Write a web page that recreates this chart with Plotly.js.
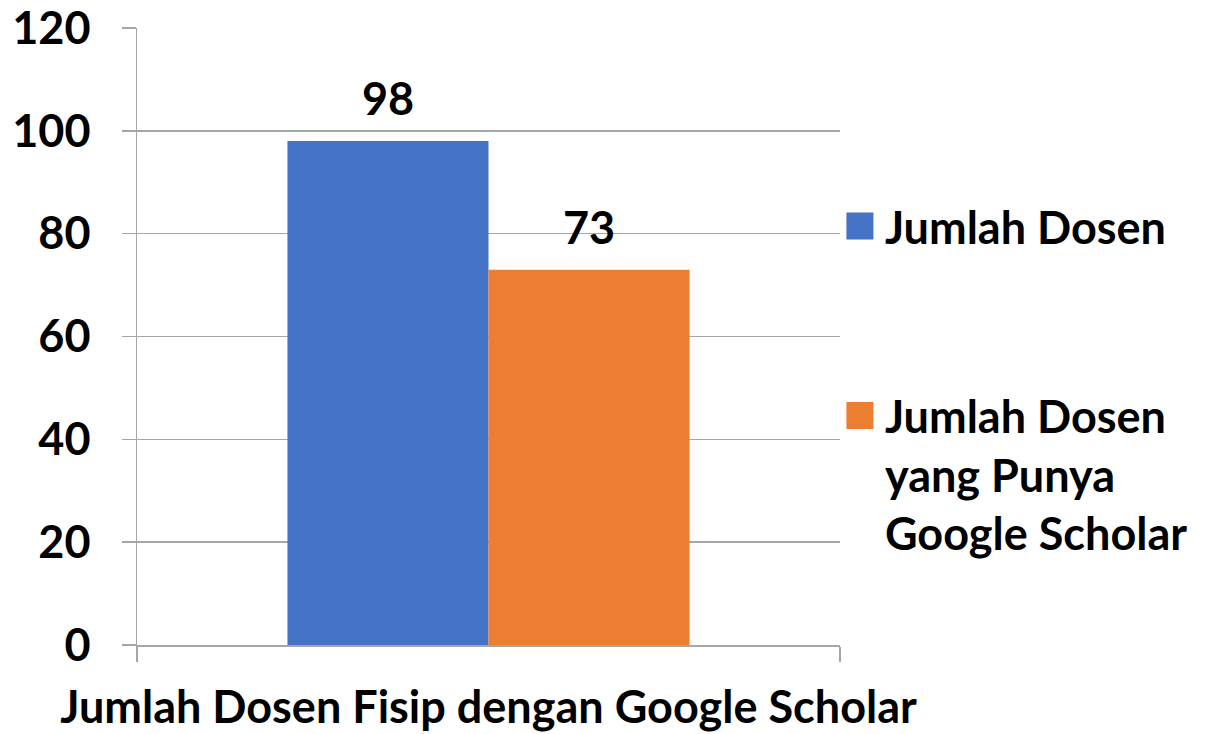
<!DOCTYPE html>
<html>
<head>
<meta charset="utf-8">
<script src="https://cdn.plot.ly/plotly-3.0.1.min.js"></script>
<style>html,body{margin:0;padding:0;background:#fff;}</style>
</head>
<body>
<div id="chart" style="width:1209px;height:734px;"></div>
<script>
const categories = ["Jumlah Dosen Fisip dengan Google Scholar"];
const seriesNames = ["Jumlah Dosen", "Jumlah Dosen<br>yang Punya<br>Google Scholar"];
const jumlahDosen = [98];
const jumlahDosenScholar = [73];
const yTicks = [0, 20, 40, 60, 80, 100, 120];

const FONT = "Lato, 'Open Sans', sans-serif";
const FS = 45;
const GRID = "#a6a6a6";
const BARGAP = 0.428;

const series = [jumlahDosen, jumlahDosenScholar];
const colors = ["#4472C4", "#ED7D31"];

const traces = series.map(function (vals, j) {
  return {
    type: "bar", name: seriesNames[j], x: categories, y: vals,
    marker: {color: colors[j]}, legendgroup: "g" + j
  };
});

// value labels above bars, placed through data coordinates
const annotations = [];
series.forEach(function (vals, j) {
  vals.forEach(function (v, i) {
    annotations.push({
      xref: "x", yref: "y",
      x: i + (j - (series.length - 1) / 2) * (1 - BARGAP) / series.length,
      y: v, text: String(v), showarrow: false,
      xanchor: "center", yanchor: "bottom", yshift: 14,
      font: {family: FONT, size: FS, color: "#000", weight: 700}
    });
  });
});

const layout = {
  width: 1209, height: 734,
  margin: {l: 137, r: 369, t: 28, b: 89},
  paper_bgcolor: "#fff", plot_bgcolor: "#fff",
  font: {family: FONT, size: FS, color: "#000", weight: 700},
  barmode: "group", bargap: BARGAP, bargroupgap: 0,
  showlegend: true,
  legend: {
    x: 1.007, xanchor: "left", y: 0.737, yanchor: "top",
    traceorder: "grouped", tracegroupgap: 128, valign: "top",
    font: {family: FONT, size: FS, color: "#000", weight: 700},
    bgcolor: "rgba(0,0,0,0)"
  },
  annotations: annotations,
  xaxis: {
    type: "category", tickson: "boundaries", tickangle: 0,
    ticks: "outside", ticklen: 15, tickcolor: GRID, tickwidth: 1.5,
    showline: true, linecolor: GRID, linewidth: 1.5,
    showgrid: false, zeroline: false, ticklabeloverflow: "allow",
    ticklabelstandoff: 22,
    tickfont: {family: FONT, size: FS, color: "#000", weight: 700}
  },
  yaxis: {
    range: [0, 120], tickvals: yTicks, ticktext: yTicks.map(String),
    ticks: "outside", ticklen: 14, tickcolor: GRID, tickwidth: 1.5,
    showline: true, linecolor: GRID, linewidth: 1.5,
    showgrid: true, gridcolor: GRID, gridwidth: 1.5,
    zeroline: false, ticklabelstandoff: 22, ticklabeloverflow: "allow",
    tickfont: {family: FONT, size: FS, color: "#000", weight: 700}
  }
};

Plotly.newPlot("chart", traces, layout, {staticPlot: true}).then(function () {
  document.querySelectorAll(".legendpoints path").forEach(function (p) {
    p.setAttribute("d", "M8.5,13.5H-18.5V-13.5H8.5Z");
  });
});
</script>
</body>
</html>
